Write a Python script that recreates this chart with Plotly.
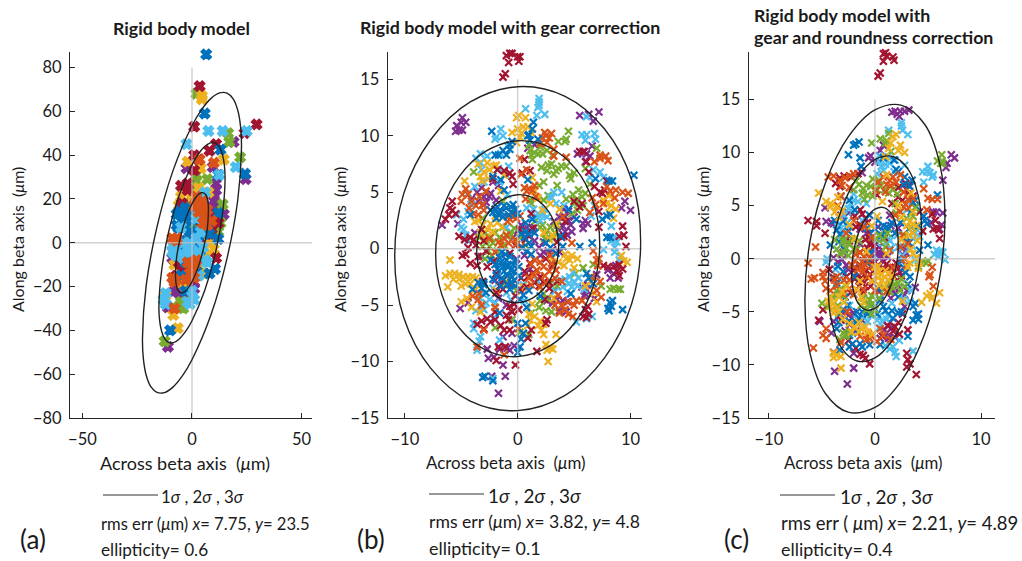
import plotly.graph_objects as go

W, H = 1022, 561
FONT = "Lato"
TXT = "#1a1a1a"
BLUE, ORANGE, YELLOW, PURPLE, GREEN, SKY, RED = "#0072BD", "#D95319", "#EDB120", "#7E2F8E", "#77AC30", "#4DBEEE", "#A2142F"

# ---------- panel (a) points (um) ----------
a_blue = [(6.5,86),(5.8,59),(24.2,31.5),(13,42.5),(12,31),(12,13.5),(12,1.7),(10.5,-12),(8,-14),(4.4,8.2),(-6.2,6.7),(-5.5,14.3),(3.6,19.6),(0,10.5),(3.6,-6.2),(-10,-40),(-4,-2),(1,-3),(-3,16),(2,5),(-7,13),(7,9),(-2,12),(-5,10),(-3,7),(-1,5),(-7,8),(-6,-4),(-3,-9),(-1,-9),(-5,-15),(1,1),(3,3),(5,5),(6,14),(8,4),(-3,-22),(2,-13),(-8,-3),(-5,1)]
a_orange = [(4,17),(3,14),(6,12),(2,21),(5,19),(1,-10),(0,-12),(2,-8),(-1,-14),(-2,-9),(-9,2),(-7,2),(10,36.5),(3.5,38),(-8,-17),(-8,-30),(7,8),(1,-16),(1,17),(5,14),(7,15),(9,10),(5,9),(-7,1),(-3,-17),(-9,-16),(-8,-18)]
a_yellow = [(4.5,67),(4.5,65.5),(-2,37),(14.5,38),(4,34),(7.5,23),(10,-3),(5,-14),(-4,-18),(-5,-18),(-4,-12),(-8.5,-33),(-6.5,-39),(-12,-24),(1,-1),(-5,-1),(2,-10),(-4,24),(4,5),(0,0),(0,20),(3,25),(-5,21),(-6,17),(8,0),(6,-5),(-7,-16),(-3,-20),(-2,-16),(-2,-5),(2,-2),(-8,-10),(8,6),(6,1)]
a_purple = [(-2.5,34),(9.5,34.5),(11,27),(11,24),(10,19),(14.5,13),(19,46),(24.5,29),(-11,-29.5),(-11,-47.5),(-7,-20),(-5,-22),(0,-2),(-1,5),(8,17),(-8,-8),(1,-18),(9,6),(-4,-11),(1,8),(10,22),(11,17),(12,14),(-2,-20),(-8,-22),(-6,-23),(-3,-25),(-4,-24),(0,4),(2,7),(-9,-7),(1,-21)]
a_green = [(2,68),(16.5,50),(17,46),(22,39),(2,31),(7,29),(14,17.5),(1,24),(-2,15),(-12.5,-45),(-5,-27),(-4,-30),(-2,11),(-1,-5),(4,-3),(13,9),(-2,8),(3,12),(6,-7),(-6,-3),(-1,18),(2,9),(0,7),(-3,13),(4,14),(-2,-3),(-3,-6),(0,-8),(3,-11),(-6,-29),(-3,-27),(12,5),(2,28)]
a_sky = [(7.5,51),(14,51),(25,51),(-2.5,45),(20,34.5),(12.5,31),(-12,-23),(-13,-26),(-2,-27),(3,-15),(-8,-2),(-8,-5),(-5,-5),(0,-7),(4,5),(3,-4),(7,-9),(-5,7),(2,11),(-1,0),(5,18),(-9,-4),(-9,-1),(-7,-6),(-4,-7),(-2,-3),(1,-5),(-4,0),(2,2),(5,-2),(6,-8),(0,-22),(1,-26),(-1,-28),(-12,-28),(3,15),(4,21),(6,23)]
a_red = [(3.5,71.5),(1,53),(29.5,54),(24,50),(11,45),(-2,27),(-4.5,18),(10,13),(8,11),(6,9),(9,8),(11,-7),(-5,-10),(-4,-14),(3,38),(1,40),(0,-1),(4,-1),(2,14),(-2,-9),(-6,-9),(-3,-12),(0,-16),(-2,24),(-5,26),(9,4),(12,9),(11,11),(4,10),(1,0),(1,-3),(-7,-15),(1,33),(-5,16),(8,42)]

# ---------- panel (b) points (um) ----------
b_blue = [(-2,3.5),(-1.5,3.3),(-1,3.6),(-0.5,3.2),(-1.7,3),(-0.8,3),(-0.2,3.5),(-1,-1),(-0.8,-1.5),(-1.2,-2),(-0.5,-2.5),(-0.6,-3),(-0.2,-1),(-1.5,-1.2),(-1.1,-0.5),(-0.3,-2),(-0.7,-3.6),(0.6,1),(1,0.5),(0.7,1.5),(1.4,11.2),(1.3,10.6),(1,10.1),(0.9,10),(-2.3,10.4),(-0.7,8.8),(-0.5,9.5),(-1,8.3),(-1.7,8.3),(-2,8.3),(7.9,2.9),(8.2,3),(8.1,6),(8.4,6),(6.9,6.2),(10.3,6.5),(7.9,1),(8.2,1),(6.6,0.5),(8.2,-4.8),(8.3,-5.1),(8.1,-5.5),(8,-5.3),(9.3,-5.4),(8.4,-4.6),(6.3,-2.6),(-2.9,-11.3),(-3.1,-11.4),(-2.2,-11.7),(0.2,-8.7),(0.3,-8),(0.5,-7.5),(0,-9.2),(-1.6,-5.7),(4,0.2),(5.5,0.2),(4.5,3.5),(-3,-3.2),(-3.2,-3.5),(1,-3.7),(2.5,0.5),
          (-1.8,3.7),(-1.2,3.8),(-0.6,3.7),(-2.2,3.2),(-1.3,2.8),(0,3.1),(-1.4,-0.3),(-1.6,-0.8),(-1.3,-1.6),(-1,-1.5),(-0.7,-0.7),(-0.4,-1.4),(-0.9,-2.4),(-0.6,-1.9),(-0.3,-2.8),(-0.2,-3.3),(-0.9,-3.1),(-1.4,-2.6),(-1.8,-1.8),(0.1,-1.6),(0.1,-2.4),(0.4,0.1),(0.3,1.3),(1,1.3),(1.2,0.2),(0.8,-0.2),(0.7,2.3),(1.3,2.6),(-3.5,-3),(-2.8,-3.9),(-2.4,-1),(0.5,-4.1),(0.2,-4.5),(2,-4.2),(3.8,1.1),(3.4,-0.4),(-1.2,5.2),(-2.2,6.4),(-1.5,6.1),(0.9,6.1),(5.2,2.6),(-4.2,3),(4.7,-4),(1.8,9.7),(1.1,9.6),
          (-2.4,3.4),(-1.9,2.7),(-0.4,3.9),(-1.9,-2.4),(-2.2,-2.7),(-1.5,-3.3),(-2,-1.4),(1.2,-0.5),(2.9,0.1),(1.5,1.4),(-4,-3.6),(-3,-3),(6.1,-2.2),(6.7,-3.1),(0.8,-5.2),(0.7,-6.6),(0,-6.6),(-0.7,9.2),(-1.3,8.7),(7.5,2.6)]
b_orange = [(0.6,5.4),(1,5.3),(1.3,5.2),(0.8,5.1),(2.5,10),(2.8,9.8),(2.6,9.4),(3,10.2),(-0.9,2.8),(-0.4,2.8),(-0.7,2.6),(0.3,6.6),(0.8,7),(7.8,8.2),(8,7.8),(7.3,8),(8.7,5.2),(9.3,5),(9.8,4.9),(7.9,5.5),(7.6,4),(-4.1,4.2),(-3.7,3.8),(-4.4,4.8),(-3.5,3),(-1.2,0.9),(-0.8,0.5),(1.5,-1),(2,-1.2),(2.3,-1.6),(1.7,-1.9),(1.2,-1.4),(2.8,-2),(3.9,-5),(4.5,-4.7),(4.2,-5.4),(3.3,-5),(-3.5,-4.5),(-3.2,-5),(7,-1),(7.2,-0.9),(7.1,-1.5),(7,-3.7),(7.4,-4.3),(-3.6,-8.7),(0.2,8),(4.3,8.1),(3.2,8.2),
            (-0.1,2.7),(0.2,2.9),(-0.2,0.8),(0.3,0.2),(-1,1.2),(-1.7,0.6),(-2,-0.3),(1.5,-2.4),(2.4,-2.4),(3,-1.3),(2.9,-0.6),(3.3,-2.6),(1,-2.6),(2,-3.4),(-3,3.4),(-3.9,3.1),(-4.3,3.6),(-4.9,4.8),(-3.4,4.6),(-2.8,5.1),(4,2.8),(4.8,0.5),(5.2,-4.6),(5,-5),(4.5,-5.8),(3.6,-4.1),(6.6,4.5),(6.4,3.2),(6.9,3.9),(8.6,4.5),(6.5,-2.5),(7.3,-2.9),(6.7,-0.2),(-3,-7.2),(-3.4,-4),(-4,-4.2),(-2,-5.2),(0.7,4.4),(1.6,4.6),(2.2,9.8),(2,9.3),(3.2,8.8),(0.1,-7.1),(-1.2,-9.4),
            (-5,4.2),(-4.6,5.3),(-3.1,3.9),(-0.9,2.4),(-0.1,0.4),(-2.5,0.9),(-1.5,0.3),(2.5,-3),(3.4,-1.9),(3.9,-2.9),(1.2,-3.2),(5.7,-4.6),(4.9,-6),(3.7,-5.7),(7.3,8.3),(6.8,7.7),(8.2,5.1),(1.5,5.6),(2.4,10.3)]
b_yellow = [(-6.4,-2.4),(-6,-2.2),(-5.6,-2.2),(-5.2,-2.3),(-4.8,-2.5),(-4.4,-2.5),(-4,-2.5),(-5.2,-2.7),(-6.2,-3.4),(-4.6,-3.1),(-3.7,-2.6),(-6,-1),(-4.7,6),(-3.8,2.4),(-3.5,2.5),(-3,6.8),(-2.5,7),(-2.1,7.3),(-2.6,6.2),(-1.9,7.4),(-0.1,11.6),(0.1,11.8),(-0.5,10.3),(0.5,10.8),(0.3,10.2),(2.9,-8.8),(2.6,-9),(3.1,-8.9),(2.7,-10),(2.3,-7.6),(2.1,-7.2),(1.8,-6.8),(1.1,-6.3),(1,-5.8),(4.3,-0.9),(4.6,-1),(4.1,-1.5),(2.3,1.4),(7.6,4.3),(7.9,4),(8.3,3.8),(8.5,2.7),(9.7,-1.2),(7,-4.7),(6.8,-3.9),(-2.7,1.7),(-1.9,-3.7),(2.9,4),(1.5,5.1),
            (-3.1,2.1),(-2.4,2.2),(-2.9,0.9),(-3.3,1.4),(-1.4,1.9),(-3.5,7.5),(-2.7,7.6),(-3.2,6),(-1.5,5.1),(-2,2.9),(-0.1,9.4),(0,10.6),(0.7,11.6),(0.9,10.8),(1.3,6.3),(1.8,4.5),(2.2,3.4),(3.7,3.5),(3.1,1.2),(2.8,0.8),(3,-0.9),(4.8,-0.6),(5,-1.7),(3.6,-1.2),(-4.5,-4.4),(-3.9,-3.7),(-4.1,-5.2),(-1.2,-3.2),(-0.8,-2.7),(0.5,-3.4),(1.3,-4.9),(0.9,-6.8),(1.5,-6),(2,-6.4),(3.2,-4.4),(6,-3.3),(6.5,-2.9),(8.1,4.7),(8.1,3.2),(9.2,-0.6),(9.4,-1.1),
            (-5.7,-2.7),(-5,-3.3),(-4.2,-3.1),(-3.4,-3.3),(-2.2,1.5),(-1.8,2.3),(-3.3,6.4),(-1.2,6.5),(1.3,10.2),(0.2,9.9),(3.4,2.2),(4.2,-0.5),(5.3,-0.9),(-5,-4.7),(-3.3,-5.6),(2.3,-6.7),(3.4,-7.6),(2.5,-8.5),(8.7,3.5)]
b_purple = [(-5.5,10.4),(-5.2,10.5),(-4.9,10.5),(-5.4,10.9),(-5,11.2),(-4.9,11.6),(-4.6,11.2),(5.5,11.8),(6.3,11.9),(7.2,12.1),(6.7,11.3),(6.1,8.4),(5.8,8.6),(6,7.7),(5.8,2.2),(6,2.5),(5.8,1.8),(6.2,2.2),(4.2,2.8),(4.5,2.5),(4,2),(4.2,1.5),(4.5,3.3),(4.4,1.2),(9.2,3.6),(9.5,4.2),(10,3.4),(-6.7,2.1),(-5.3,2.2),(-2.2,5.9),(-3,4.6),(-2.4,4.9),(-2.8,4.1),(1.1,1.6),(0.9,1.2),(2.3,-0.3),(2.7,-0.2),(8.5,-2.2),(8.7,-1.5),(8.2,-2.6),(6.1,-3.7),(6,-4),(6.2,-3.2),(3.5,-4.5),(4,-4.6),(4.3,-5.6),(-4.4,-4.8),(-5.1,-5.3),(-2.6,-9.7),(-1.3,-10.3),(-0.7,-9),(-0.9,-8.8),(-0.5,-7.5),(-1.1,-11.3),(-1.7,-12.8),(-2.3,-11.3),
            (-3,3.9),(-2.5,4.6),(-1.9,4.3),(-1.7,5.6),(-3.5,4.2),(-0.4,1),(0,1.6),(0.3,2.1),(0.8,1.9),(1.5,0.7),(1.9,0.1),(2,-0.6),(3.1,-0.1),(3.7,-0.3),(3.2,2.4),(3.6,1.7),(3.9,1),(4.1,3.5),(4.7,2.1),(3.2,-3.7),(3.1,-4.8),(3.7,-5.5),(5.9,-4.2),(5.7,-3.4),(6.5,-4.1),(8,-1.9),(8.9,-2.6),(1.1,-1.8),(0.6,-0.6),(-1.7,-4.4),(-2,-2.8),(-3.8,1.4),(-3.2,-0.7),(-0.3,-8.6),(-1.6,-8.9),(-2.1,-9.6),(0.9,8.9),(1.5,9.2),(6.4,8.2),(6.6,9.1),
            (-3.6,5),(-3.2,5.4),(-4.1,4.4),(-2,3.5),(1.5,1.9),(2.3,0.6),(0.4,1.3),(4.8,1.5),(5,2.8),(3.7,2.8),(2.6,-4.6),(4.4,-4.7),(7,-2.3),(6.8,-4.4),(-0.1,-0.9),(-1,-5),(-1.3,-7.8),(-2.7,-8.9),(5.3,8.4)]
b_green = [(-3.9,6.8),(-2.5,0.2),(-2.4,1),(-2.2,0.5),(-2,1.4),(-2.6,-0.2),(-0.7,1.4),(-0.6,1.2),(1.1,8.7),(1.5,8.5),(1.8,8.4),(2.2,8.4),(2.6,8.7),(1,9.2),(3.6,7.1),(3.4,6.9),(3.9,7.3),(3.2,6.6),(4.3,7.3),(4.6,6.5),(4.7,6.2),(5,6.7),(4.5,10.4),(4.3,9.7),(4.2,9.5),(3.6,9.5),(2.3,5.9),(1.9,5.6),(3.5,5.6),(2.3,4.3),(5.2,4.3),(5,4),(5.4,5.2),(7,8.9),(6,7.1),(2.6,1.6),(2.9,1.9),(2.5,1.3),(8.5,-3.5),(8.9,-3.6),(9.1,-3.6),(8.2,-3.6),(5.8,-1.7),(2.3,-4),(5.1,-2.2),(2.6,-4.4),(1.1,4.3),
           (-2.3,-0.6),(-1.8,-0.2),(-2.8,0.8),(-3.1,0.2),(-2.9,1.4),(-1.3,1.9),(-1.2,0.3),(-0.3,1.8),(0.2,1),(2.2,2.1),(2.4,0.9),(2,1.9),(3.1,0.9),(3.3,1.4),(1.2,4),(2.7,4.7),(5.7,4.6),(5.8,3.8),(4.8,3.1),(6,4.9),(4.9,4.8),(2.7,7.4),(3,7.5),(3.1,8.3),(2,9),(1.3,7.9),(6.7,-1.4),(2,-4.6),(2.9,-3.1),(3,-5.6),(1.9,-5.2),(-0.1,-3.7),(-0.5,-6.3),(1,-7.6),(-3.1,2.7),(-1.3,4.2),
           (-2.9,-0.9),(-3.4,1),(-1.6,1),(-0.9,1.1),(0.7,0.3),(1.6,2.5),(3.5,2.1),(2.1,7.2),(2.6,6.9),(1.2,8.3),(5.3,3.4),(4.3,4.4),(6.4,5.7),(7.4,-3.3),(2.5,-5.5),(1.2,-5.7),(0.2,-7.4),(3.5,-3.3),(-2,-7)]
b_sky = [(1.9,13),(1.9,13.3),(1.9,12.7),(1.8,12.5),(0.7,12.4),(2.4,11.9),(1.7,11.8),(-1.9,9.9),(-1.5,10.6),(-1.3,10),(-2,9.7),(5.7,10.1),(6.1,10.1),(6.8,10.2),(6.9,9.7),(6,9.6),(6.1,11.7),(6.7,7),(7.9,6.1),(7.6,6.3),(-3.3,7.6),(-3.2,7),(-3.3,8.4),(-4.4,4.9),(-4.8,1.7),(-4.6,1.2),(-0.8,7.3),(-1.6,5.9),(1.7,2.8),(2.2,3),(1.8,3.1),(2.9,4.6),(3,4.5),(8.5,0.8),(8.8,0.6),(8.3,0.7),(8.5,1),(9.1,-0.7),(9,-1),(8.6,-0.3),(4.5,-3.1),(4.2,-2.7),(4.8,-3.4),(4.6,-2.5),(5,-2.9),(4,-3.4),(-3.9,-6.6),(-3.9,-7.1),(-3.3,-7.8),(-3.4,-8.2),(-1.6,-8.1),(5.2,-6.5),(6.1,-6.2),(-2.5,-4.5),(-2.8,-4.8),(-2.2,-11.5),
         (1.2,2.7),(2,2.5),(2.6,2.8),(3.4,4),(3.2,5),(4.1,3.8),(0.8,3.6),(4.9,-2.1),(5.3,-3.3),(4.4,-3.8),(3.8,-2.8),(5.4,-2.6),(-3,-5.4),(-3.7,-5.5),(-3.2,-5.2),(-2.2,-3.5),(-1,-3.9),(-2.1,-6.1),(0.6,-4.6),(1.8,-2.9),(-4.4,3.3),(-5,1.9),(-4.4,0.7),(-4.8,2.6),(-3.8,5.5),(-3,5.9),(-0.9,4.8),(-1,1.9),(-2.7,8.2),(-1.7,7.1),(-0.9,9.1),(8.6,0.1),(8.3,2),(7.3,6.8),(6.4,6.3),(6.8,3.8),(6.5,2.9),
         (2.4,3.5),(1.4,3.5),(3.9,5),(-1.5,8.4),(-1.1,6.6),(-3.7,8),(-4.1,3.9),(-5.4,3),(-3.4,-4.3),(-3.1,-4),(-2,-4.8),(-0.6,-4.5),(3.3,-3.8),(4.7,-4),(5.9,-3.6),(6.6,-6),(-3.6,-9),(7.6,-0.1),(0.5,-3.2)]
b_red = [(-0.7,17.3),(-0.5,17.3),(-1,17.1),(0.2,17),(0,17),(-0.8,16.5),(0.1,16.6),(-1.3,15.2),(-1.1,15.5),(-5.8,3.4),(-6,3.6),(-5.8,4.2),(-6.1,3),(-5.5,3.1),(-6.4,2.6),(-3.9,0.8),(-4.2,1),(-3.7,0.3),(-4.4,0.1),(5.5,8.6),(5.9,8.6),(6.1,7.7),(7.7,5.2),(7.5,4.9),(7.3,5),(5.5,3.7),(5.7,4),(9.3,2),(9.4,1.2),(9,1.1),(9.6,0.2),(8.5,-1.6),(8,-1.6),(8.8,-2),(9.3,-1.8),(9,-2.4),(7.6,-1.5),(6,-5.4),(6.2,-5.1),(5.8,-6),(-2.4,-6.5),(-2,-6.3),(-1.5,-6.8),(-2.7,-6.2),(-1.2,-7.2),(-0.7,-5.1),(-0.5,-5.6),(-0.3,-4.9),(2.6,-6.3),(2.5,-6.6),(-0.2,-10.3),(-1.9,-9.9),(-1.1,-8.7),(1.7,-9.1),(-0.7,6.7),(-0.5,6.4),(0.4,6.7),(0.6,7.9),(-1.9,-2.2),(-1.3,-2.8),(0.8,-3.4),(2,-2.5),(2.3,-3),(1.9,-3.3),(1.1,-1.3),(-0.7,-0.4),(-2.7,-1.6),(-4.2,-1.3),(-3.6,-1.5),(-3.1,-2.9),
         (-2.1,-1.1),(-1.3,-3.6),(-0.5,-3.1),(-0.2,-4.2),(-1.9,-3.9),(0.3,-2.6),(0.6,-2),(1.3,-2.2),(1.5,-3),(2.8,-3),(3.1,-1.5),(2.5,-0.9),(0.7,0.8),(-0.2,0.3),(0.2,1.7),(-0.3,3.1),(-3.2,1.7),(-2.8,-0.2),(-4.7,0.8),(-4.6,-0.5),(-2.2,6.2),(-1.2,6.9),(-0.4,5.7),(1.2,3.1),(1.3,1.8),(3.5,0.6),(4.2,2.4),(5,4.2),(7.2,3.3),(6.8,5.5),(7.9,6),(-2,-5.6),(-1,-5.9),(-0.7,-7.2),(-1.7,-8.7),(-3,-7.1),(-3.2,-6.4),(0.9,-7.9),(6.3,-5.8),(6.1,-6.1),(9,-1.4),
         (-4.9,-0.6),(-3.5,-0.7),(-5.2,1.1),(-3,0.7),(-1.6,-3.3),(0.2,-3.6),(0.9,-2.5),(2.8,-3.5),(3.5,-2.9),(-3.6,-6.7),(-0.8,-6.3),(0.1,-5.4),(1.2,-7.2),(7.2,1.9),(6.3,6.8),(-1.8,7),(1.1,6.9),(2.4,-4.5),(4.1,1.1)]

# ---------- panel (c) points (um) ----------
c_blue = [(-1.8,10.8),(-2,10.7),(-1.5,11),(-2.5,9.8),(-1.4,9.5),(-1.3,8.7),(2,8.4),(2.2,8.2),(3.5,7.4),(3.8,5.5),(3.6,5.3),(4.6,4),(4.7,3.6),(4.9,3.3),(5.9,6),(1.1,3),(0.8,3.1),(1.3,2.8),(0.9,2.6),(-3.6,2.7),(-3.3,2.3),(-4.2,1.3),(3.6,2.4),(3.2,2.8),(5,1.3),(4.2,0.8),(-3.6,-2.3),(3.9,-5.3),(4.1,-5.7),(3.6,-5.8),(4.1,-5.2),(3.6,-4.5),(3.8,-4.2),(-1.4,-8),(-1.2,-8.3),(-2.1,-8),(-0.5,-8.1),(0.5,-8.1),(-3.3,-8.6),(-2.4,-8.3),(-1.7,-5),(-1.2,-5),(-0.7,-5.2),(0.8,-4.5),(1,-4.9),(-3,-4.8),(2.7,-0.8),(2.9,-1.3),(3.3,-1.7),(-2.8,-3.6),
          (0,2.8),(0.6,2.2),(1.6,3.4),(0.3,3.6),(-0.7,2.9),(-3,3.5),(-3.4,1.6),(-2.9,0.9),(-3,-1.2),(-3.5,-0.7),(3.2,1.5),(3.9,4.9),(4.1,3.1),(3.4,4.4),(-3.2,5.9),(-2.4,5.5),(-1.9,4.6),(-0.5,4.1),(2.5,-0.2),(3.1,-2.4),(2.2,-3.6),(0.5,-3.9),(-0.1,-4.6),(0.2,-5.2),(1.7,-5.6),(2.5,-5),(-1.8,-6),(-3.4,-6),(-2.4,-5.9),(-0.7,-0.4),(-0.4,0.6),(0.8,9.5),(1.8,9.3),(2.7,7),(3.3,6.8),(-1.9,-1.7),(-3.4,-5.2),(3.1,-7.3),
          (-2.6,-4.4),(-1.5,-5.6),(1.6,-4.9),(2.2,-5.1),(-0.2,2.1),(1.9,2.4),(2.4,3.4),(3,2),(-2.5,2.6),(-3.8,3.6),(-2.4,-7.2),(-1.6,-7),(-3.6,-6.6),(0.3,-2.8),(2.8,7.7)]
c_orange = [(-6.3,-0.4),(-6,-1.9),(-5.7,-1.8),(-4.9,-1.7),(-4.7,-2.1),(-4.9,-1.3),(-5.6,1.1),(-1.3,-0.8),(-1.1,-1.2),(-0.9,-0.6),(-1.6,-1),(1.4,7.4),(1.7,7.7),(1.1,7),(1.5,6.9),(2,7.2),(-3.3,7.4),(-2.8,7.6),(-2.4,7.8),(-2,8),(5,5.7),(5.4,5.6),(5.9,5.6),(4.6,6.6),(4.9,4.6),(2.7,4.9),(2.9,5.1),(5.2,-1.5),(5.1,-1.7),(5.4,-0.8),(5.5,-2.6),(-4.9,-7.2),(-4.6,-7.5),(-5.8,-8.4),(-3.9,-8.8),(-0.5,-7.5),(-0.3,-7.3),(-0.8,-7.6),(0.8,-7.2),(-2.7,2.4),(-3.6,-1.7),(-4.4,7.7),(2.4,1.1),(1.7,-0.8),(-3.6,-2.6),(3,-0.6),
            (-1.9,-0.2),(-1.2,-0.3),(-1,0.2),(-0.5,0.1),(-2.2,-0.6),(-0.2,-0.7),(0.3,7.2),(0.8,7.7),(2.4,7.9),(2.7,6.3),(3.1,5.6),(3.2,4.8),(-3.9,7.8),(-3.1,6.9),(-3.5,5),(-2,3.6),(-1,3),(-0.3,2),(1.4,0.8),(2.6,2.2),(3.1,1.4),(2.8,0),(-1.1,-2.9),(0,-3),(1.1,-3.1),(-2.4,-2.8),(-3,-3.3),(-2.6,-5),(-4.2,-3),(-4.6,-2.8),(1.5,-7.6),(0.5,-6.6),(-1.4,-7.3),(-4.6,-6.6),(-3.2,-7.9),(-2.4,-2),
            (-1.4,0.6),(-1.8,0.4),(-0.7,-1.7),(0.1,6.4),(1,6.3),(2.4,4.4),(1.9,4.1),(3.6,5.7),(-3.8,-2),(-2.9,-2),(-2,-3.4),(-0.6,-7.1),(0.2,-7.8),(-3.2,5.9),(-2.4,6.7)]
c_yellow = [(-5.3,6.2),(-4.6,5.4),(-4.2,5.2),(-3.6,4.9),(-3.8,4.4),(-3.5,5.8),(2,11.7),(2.4,10.7),(2.2,10.2),(1.3,10.4),(1.7,11.5),(5.2,-3.3),(5.4,-3.7),(4.9,-3.5),(6.1,-3.2),(5.8,-4.2),(4.4,-4.1),(0.6,-1.5),(0.9,-1.7),(1.3,-1.4),(0.3,-1.8),(0.7,-2),(3.6,3.3),(3.3,3.5),(3.9,3.1),(3.6,4.4),(3.6,0.5),(4.2,-0.3),(-3.9,-4.2),(-3.6,-4.7),(-3.4,-3.6),(-4.2,-4.5),(-1.3,-6.6),(-0.9,-6.4),(-1.5,-6.9),(-0.7,-6.9),(-3.6,-9.1),(-3.2,-9.2),(-3.9,-9.3),(-3.2,-10.3),(-1.3,-3.6),(-2.7,-2.6),(3.3,-0.4),(1.1,0.5),(0.2,4),
            (-3.1,4.5),(-3.4,3.9),(-2.4,3.2),(-1.9,1.9),(-0.3,3.1),(-0.8,0.7),(0,-0.8),(0.4,-1.2),(1,-1.1),(1.3,-2),(0.4,-2.5),(0.9,-2.6),(-0.3,-2.1),(2.5,1.8),(3,3.1),(4,1.7),(3.9,0.1),(3.4,0.9),(3.4,6.2),(2.2,5),(1.1,7.9),(0.7,5.4),(1.5,10.9),(-3.1,-3.1),(-2.9,-4.1),(-3,-5.7),(-2.2,-6.9),(-1.9,-6.4),(-1.1,-4.1),(-1.7,-2.9),(-0.2,-7.1),(2.6,-4),(4.1,-0.9),(-4.2,-3.6),(-3.9,-8.9),
            (-3.9,-5.1),(-4.4,-4),(-3.4,-5),(-2.4,-6.1),(-1.5,-6),(0.1,-1.2),(1.6,-1.6),(0.3,-0.7),(2.5,3.9),(3.2,2.2),(3.6,2.4),(-4.2,4.9),(2.8,10),(1,9.6),(3.1,-0.8),(-1.4,-2.1)]
c_purple = [(2.4,13.9),(2.1,13.6),(1.6,13.8),(1.9,13.9),(3.2,14),(2.8,13.9),(2.3,13.4),(7.5,9.5),(7.2,9.8),(6.8,9),(6.7,8.6),(6.4,7.4),(-0.6,9.5),(-0.4,9.7),(0.5,10.2),(-4.7,4.8),(-3.9,3.3),(-4.6,3.5),(5.5,4.4),(6.4,4.3),(6.3,3.2),(0.5,0.5),(0.2,0.5),(0.5,0.2),(0.1,0.9),(0.7,0.8),(-2.7,-0.6),(3,0.5),(1.1,-7),(0.9,-6.7),(1.3,-7.5),(-2.8,-5),(-2.5,-5.3),(-2.2,-5.6),(-5.2,-5.9),(1.7,-3),(1.9,-3.3),(2.3,-2.7),(2.8,-4.5),(-3.8,-10.6),(-2,-10.3),(-2.6,-11.8),(-2,-8.9),(-4.1,-7),(-0.8,2.4),(-2.7,1.8),
            (-2.5,-1),(-1.9,-0.8),(-3.5,-0.3),(-3,0.6),(0.4,1.1),(-0.1,0.1),(0,-0.3),(0.9,0.3),(1.2,0.2),(-0.4,1.3),(0.3,3),(1.4,4.1),(2.2,2.9),(2.7,1.1),(2.4,-1.3),(1.5,-3.7),(0.4,-3.1),(-2.4,-6.2),(-2,-5.1),(-1.7,-6.7),(-3.3,-5.4),(0.5,-7.5),(1.6,-6.5),(1.9,-7.4),(-2.5,4.3),(-3.2,4.1),(-1.4,2.8),(-0.9,3.8),(0,9.1),(0.8,10.7),(5.3,3.4),(6.1,2.8),(5.8,4.4),(-4.1,3.4),(-1.2,8.1),(3,-3),
            (-3.9,0.1),(-2,-1.6),(-3.1,-0.1),(-0.3,0),(0.8,-0.3),(-0.6,2),(-1.4,1.4),(1.5,3.1),(2.6,0.4),(-1.2,-5.8),(-3.9,-5.9),(-2.8,-6.8),(1.4,-6),(2.8,-3.4),(3.8,-2.7)]
c_green = [(6.3,9.8),(6.3,9.2),(6.2,9),(6.4,9),(5.9,9.2),(-0.3,10.9),(0.5,11.3),(1.3,11.8),(1.1,11.1),(-0.8,6.9),(-1.1,6.6),(-0.4,6.8),(-1.5,7),(-1.2,6.2),(0.1,6.6),(0.5,6.8),(0.9,6.5),(-2.4,1.4),(-2.7,1),(-2.2,1.9),(-2,0.9),(-2.9,0.6),(-3.3,0.5),(1.4,-2.3),(1.9,-2.4),(2.2,-2.3),(1.6,-2.6),(-0.5,-3.9),(-0.6,-4.3),(-0.2,-4.2),(-3.8,-3.4),(-3.6,-3),(-3.9,-3.7),(-5,-4.2),(-3,-7),(-2.8,-7.3),(4.4,-0.4),(4.8,-0.4),(0.8,1.8),(3.6,4),(2,4.3),
           (-0.2,7.5),(-1.8,7.3),(-2,6.5),(-1,5.6),(0.4,7.4),(1.3,6.2),(1.7,6.5),(2.1,6.1),(-3,1.6),(-3.6,0.9),(-2.5,0.3),(-1.5,1.7),(0.4,2.2),(1,1.1),(1.2,2.4),(3,3.8),(3.8,4.8),(2.8,2.2),(2.5,-1.9),(1.4,-3.1),(0.9,-2.9),(2.8,-2.6),(-1.1,-3.7),(-0.3,-3.5),(-0.8,-4.8),(-0.3,-5.2),(-2.8,-2.5),(-3,-3.5),(-4.4,-4.5),(-3.7,-4.9),(-2.7,-7.1),(-3.3,-7.6),(5,-0.2),(4.1,-0.7),(1,10.9),(1.5,10.1),
           (-2.9,1.8),(-3.8,1.8),(-1.7,0.9),(-0.7,6),(-0.2,5.9),(1.9,5.2),(2.4,-3),(0.4,-3.7),(0,-4.8),(-1.3,-4.4),(-3.3,-2.9),(-3.5,-4.4),(-2.4,-6.9),(3.4,3),(0.1,1.9)]
c_sky = [(2.5,12.8),(2.5,12.5),(2.6,12.1),(1.3,12.1),(3.1,11.7),(0.6,8.7),(1,8.9),(0.8,8.3),(1.4,9),(0.4,9.2),(4.9,8.2),(5.2,8.1),(5.5,7.9),(4.5,8.2),(5,8.7),(5.4,7.7),(4.6,7.2),(5.8,0.8),(6,0.6),(6.2,0.7),(6,0.2),(6.6,-0.1),(1.3,1.9),(1,1.5),(1.4,1.7),(1.4,0.8),(-2,5.5),(-2.3,5.2),(-2.5,4.7),(-3,2.7),(-3.2,2.2),(-4.6,-0.3),(1.7,-8.3),(1.4,-8.5),(1.9,-8.8),(2,-9.2),(3.6,-8.7),(0.2,-5.8),(0.7,-5.9),(1.1,-5.7),(-1.1,-5.5),(3.6,1.9),(3,4.6),(-2,-3.3),
         (-2.6,3.4),(-3.3,3.3),(-3.5,3),(-2.1,4.4),(-2,6.1),(-1.6,5.4),(-0.8,5.2),(0.2,8),(0.4,9.7),(1.2,9.6),(1.9,9.3),(1.5,1),(0.7,2.2),(0.2,1.5),(2.2,1.1),(2.6,0.3),(3.2,0.9),(3.5,1.2),(4.2,2.1),(3.8,-0.1),(2.7,-3.8),(3.3,-4),(1.2,-5.3),(0.4,-6.5),(1.6,-4.2),(-0.7,-5.9),(-1.7,-5.7),(-3.3,-1.9),(-3.7,-1),(-4.5,0),(6.4,0.6),(5.6,0.4),(2.3,-7.7),(1,-8.2),(3.5,5.4),
         (-2.9,4.1),(-2.4,3),(-1.2,3.6),(0.3,7.2),(1.8,8.2),(2.8,8.8),(-0.2,-0.1),(2.1,2.2),(2.9,1.5),(3.4,-3),(0.4,-5.4),(-0.4,-5.3),(-2.4,-4.4),(-4,-1.7),(4,2.7)]
c_red = [(0.8,19.3),(1,19.4),(1.1,19.1),(0.8,18.6),(1.7,19),(1.8,18.7),(0.5,17.5),(0.3,17.2),(-6.3,3.6),(-5.5,3.5),(-5.5,3.1),(-4.7,2.4),(5.8,2.9),(6,2.7),(5.5,2.8),(5.7,3.6),(6.1,1.9),(-4.9,-4.8),(-5.3,-5.8),(3,-8.9),(3.1,-9.5),(3.3,-9.9),(3,-10.2),(3.9,-10.9),(3.1,-6.7),(-1.1,-9.1),(-0.9,-9.4),(-0.5,-9.9),(-0.8,-1.1),(-1,-1.5),(-0.6,-1.8),(-1.2,-2),(-0.9,-2.6),(1.4,-0.8),(1.6,-1.3),(-1.4,4.6),(-1.2,4.2),(-3.3,7.6),(3,6.5),(3.1,6.1),(1.9,-6.4),(1.7,-6.8),(-0.5,2.4),(-0.4,1.5),(2.2,5.8),
         (-1.4,-0.6),(-1.1,-0.2),(-1.5,-1.6),(-0.2,-1.2),(-0.2,-2),(-1.5,-2.6),(-0.4,-2.6),(0.9,-1),(1.1,-0.5),(2,-0.4),(2.2,-0.9),(1.8,-1.7),(-1.9,4),(-1.4,3.2),(-0.7,3.4),(-0.7,1),(-0.1,1.2),(-0.9,1.8),(0.9,2),(2.6,5.5),(3.2,6.9),(2.9,7.1),(2.2,6.7),(-2.2,7.7),(-1.6,8),(-2.9,7.8),(-3.3,6.8),(4.1,3.1),(4.2,4.4),(5.4,4.2),(2.6,-5.2),(2.2,-6),(1.2,-6.3),(-2.3,-3.2),(-2.7,-1.7),(-1.8,-8.4),(-1.4,-9),(0.7,-7.3),(-3.2,-5.8),(-4.3,-1),
         (-0.3,-0.3),(-1.9,-1.9),(-2,-1.1),(-1.1,-3.2),(0.3,-0.6),(1.3,-2.6),(2.5,-1.6),(-1.8,3),(-2.4,1.7),(-1.4,0.6),(0.2,6),(1.6,5.2),(3.6,5.9),(-3.7,7.1),(-2.5,-7.7),(2.3,-7.1),(-3.9,-1.8),(4.5,2.6)]

a_3s_x = [22.6,22.2,20.9,18.8,16.0,12.6,8.7,4.4,0,-8.7,-16.0,-20.9]
a_3s_y = [43.3,52.9,60.5,65.7,68.3,68.4,65.9,60.8,53.4,32.8,7.1,-19.5]
a_2s_x = [15.1,14.8,13.9,12.5,10.7,8.4,5.8,2.9,0,-5.8,-10.7,-13.9]
a_2s_y = [28.9,35.3,40.3,43.8,45.5,45.6,43.9,40.5,35.6,21.8,4.8,-13.0]
a_1s_x = [7.5,7.4,7.0,6.3,5.3,4.2,2.9,1.5,0,-2.9,-5.3,-7.0]
a_1s_y = [14.4,17.6,20.2,21.9,22.8,22.8,22.0,20.3,17.8,10.9,2.4,-6.5]
b_3s_x = [10.9,10.1,7.7,4.2,0,-4.2,-7.7,-10.1]
b_3s_y = [0.66,6.1,10.6,13.5,14.35,13.0,9.67,4.88]
b_2s_x = [7.27,6.72,5.14,2.78,0,-2.78,-5.14,-6.72]
b_2s_y = [0.44,4.07,7.07,9.0,9.56,8.66,6.45,3.25]
b_1s_x = [3.63,3.35,2.57,1.39,0,-1.39,-2.57,-3.35]
b_1s_y = [0.22,2.03,3.53,4.5,4.78,4.33,3.22,1.63]
c_3s_x = [6.6,6.1,4.67,2.53,0,-2.53,-4.67,-6.1]
c_3s_y = [3.93,8.99,12.69,14.45,14.01,11.45,7.13,1.75]
c_2s_x = [4.4,4.07,3.11,1.69,0,-1.69,-3.11,-4.07]
c_2s_y = [2.62,5.99,8.46,9.63,9.34,7.63,4.75,1.16]
c_1s_x = [2.2,2.03,1.56,0.84,0,-0.84,-1.56,-2.03]
c_1s_y = [1.31,3.0,4.23,4.82,4.67,3.82,2.38,0.58]

# ticks
a_xticks = [-50,0,50]
a_yticks = [-80,-60,-40,-20,0,20,40,60,80]
b_xticks = [-10,0,10]
b_yticks = [-15,-10,-5,0,5,10,15]
c_xticks = [-10,0,10]
c_yticks = [-15,-10,-5,0,5,10,15]

# axis ranges & guide extents
a_xr, a_yr = [-55.7, 54.8], [-80, 87.2]
b_xr, b_yr = [-11.52, 11.0], [-15, 17.45]
c_xr, c_yr = [-11.9, 11.32], [-15, 19.5]
a_vr, b_vr, c_vr = [-80, 80], [-15, 15], [-15, 15]

def X(p): return p / W
def Y(p): return 1 - p / H

panels = [
    dict(sfx="", xr=a_xr, yr=a_yr, vr=a_vr, dom=(70,312), xt=a_xticks, yt=a_yticks,
         series=[(a_purple,PURPLE),(a_green,GREEN),(a_yellow,YELLOW),(a_red,RED),(a_blue,BLUE),(a_sky,SKY),(a_orange,ORANGE)],
         rings=[(a_1s_x,a_1s_y),(a_2s_x,a_2s_y),(a_3s_x,a_3s_y)]),
    dict(sfx="2", xr=b_xr, yr=b_yr, vr=b_vr, dom=(387.7,641.8), xt=b_xticks, yt=b_yticks,
         series=[(b_purple,PURPLE),(b_green,GREEN),(b_sky,SKY),(b_yellow,YELLOW),(b_red,RED),(b_orange,ORANGE),(b_blue,BLUE)],
         rings=[(b_1s_x,b_1s_y),(b_2s_x,b_2s_y),(b_3s_x,b_3s_y)]),
    dict(sfx="3", xr=c_xr, yr=c_yr, vr=c_vr, dom=(748.7,995), xt=c_xticks, yt=c_yticks,
         series=[(c_purple,PURPLE),(c_sky,SKY),(c_red,RED),(c_blue,BLUE),(c_green,GREEN),(c_orange,ORANGE),(c_yellow,YELLOW)],
         rings=[(c_1s_x,c_1s_y),(c_2s_x,c_2s_y),(c_3s_x,c_3s_y)]),
]

fig = go.Figure()
layout_axes = {}
for i, p in enumerate(panels):
    xa, ya = "x"+p["sfx"], "y"+p["sfx"]
    for pts, col in p["series"]:
        if i == 0:
            marker = dict(symbol="x", size=9, color=col, line=dict(width=1.5, color=col))
        else:
            marker = dict(symbol="x-thin", size=7, color=col, line=dict(width=2.2, color=col))
        fig.add_trace(go.Scatter(x=[q[0] for q in pts], y=[q[1] for q in pts], mode="markers",
                                 marker=marker, xaxis=xa, yaxis=ya, cliponaxis=False, showlegend=False))
    guide = dict(color="rgba(195,195,195,0.75)", width=1.5)
    fig.add_trace(go.Scatter(x=p["xr"], y=[0,0], mode="lines", line=guide, xaxis=xa, yaxis=ya, showlegend=False))
    fig.add_trace(go.Scatter(x=[0,0], y=p["vr"], mode="lines", line=guide, xaxis=xa, yaxis=ya, showlegend=False))
    for hx, hy in p["rings"]:
        rx = hx + [-v for v in hx] + hx[:1]
        ry = hy + [-v for v in hy] + hy[:1]
        fig.add_trace(go.Scatter(x=rx, y=ry, mode="lines", line=dict(color="#222222", width=1.4, shape="spline", smoothing=1),
                                 xaxis=xa, yaxis=ya, cliponaxis=False, showlegend=False))
    common = dict(showgrid=False, zeroline=False, showline=True, linecolor="#262626", linewidth=1.2, automargin=False,
                  ticks="inside", ticklen=5, tickcolor="#262626", tickwidth=1,
                  tickfont=dict(family=FONT, size=16.5, color=TXT), tickmode="array")
    layout_axes["xaxis"+p["sfx"]] = dict(domain=[X(p["dom"][0]), X(p["dom"][1])], range=p["xr"], tickvals=p["xt"],
                                         anchor=ya, ticklabelstandoff=6, **common)
    layout_axes["yaxis"+p["sfx"]] = dict(domain=[Y(418), Y(51.7)], range=p["yr"], tickvals=p["yt"],
                                         anchor=xa, ticklabelstandoff=4, **common)

# text placed at pixel positions
def note(x, y, text, size=15, anchor="left", angle=0, bold=False):
    t = f"<b>{text}</b>" if bold else text
    return dict(xref="paper", yref="paper", x=X(x), y=Y(y), text=t, showarrow=False, xanchor=anchor, yanchor="middle",
                textangle=angle, align="left", font=dict(family=FONT, size=size, color=TXT))

MU = "<i>μ</i>m"
SIG = "1<i>σ</i> , 2<i>σ</i> , 3<i>σ</i>"
notes = [
    note(181, 28, "Rigid body model", 17.8, "center", bold=True),
    note(510, 27, "Rigid body model with gear correction", 17.8, "center", bold=True),
    note(752, 15, "Rigid body model with", 17.8, bold=True),
    note(752, 37, "gear and roundness correction", 17.8, bold=True),
    note(18, 240, f"Along beta axis  ({MU})", 16, "center", -90),
    note(340, 240, f"Along beta axis  ({MU})", 16, "center", -90),
    note(703, 240, f"Along beta axis  ({MU})", 16, "center", -90),
    note(185, 463, f"Across beta axis  ({MU})", 18, "center"),
    note(506, 462, f"Across beta axis  ({MU})", 16.9, "center"),
    note(863, 462, f"Across beta axis  ({MU})", 16.8, "center"),
    note(158.5, 496, SIG, 16.8),
    note(485.5, 495, SIG, 18.9),
    note(837.5, 496, SIG, 18.9),
    note(98.5, 524, f"rms err ({MU}) <i>x</i>= 7.75, <i>y</i>= 23.5", 16.6),
    note(426.5, 521, f"rms err ({MU}) <i>x</i>= 3.82, <i>y</i>= 4.8", 17.6),
    note(778.5, 523, f"rms err ( {MU}) <i>x</i>= 2.21, <i>y</i>= 4.89", 18.5),
    note(98.5, 549, "ellipticity= 0.6", 17.2),
    note(426.5, 548, "ellipticity= 0.1", 17.9),
    note(778.5, 549, "ellipticity= 0.4", 17.9),
    note(17.5, 539, "(a)", 26),
    note(354.5, 539, "(b)", 26),
    note(721.5, 539, "(c)", 26),
]
key_lines = [(103,158,495),(429,484,494),(780,835,495)]
shapes = [dict(type="line", xref="paper", yref="paper", x0=X(a), x1=X(b), y0=Y(y), y1=Y(y),
               line=dict(color="#333333", width=1.2)) for a, b, y in key_lines]

fig.update_layout(width=W, height=H, autosize=False, margin=dict(l=0, r=0, t=0, b=0, pad=0, autoexpand=False),
                  paper_bgcolor="white", plot_bgcolor="white", showlegend=False,
                  annotations=notes, shapes=shapes, **layout_axes)
fig.write_html("out.html", config=dict(displayModeBar=False),
               post_script="document.body.style.margin='0';document.body.style.overflow='hidden';")
